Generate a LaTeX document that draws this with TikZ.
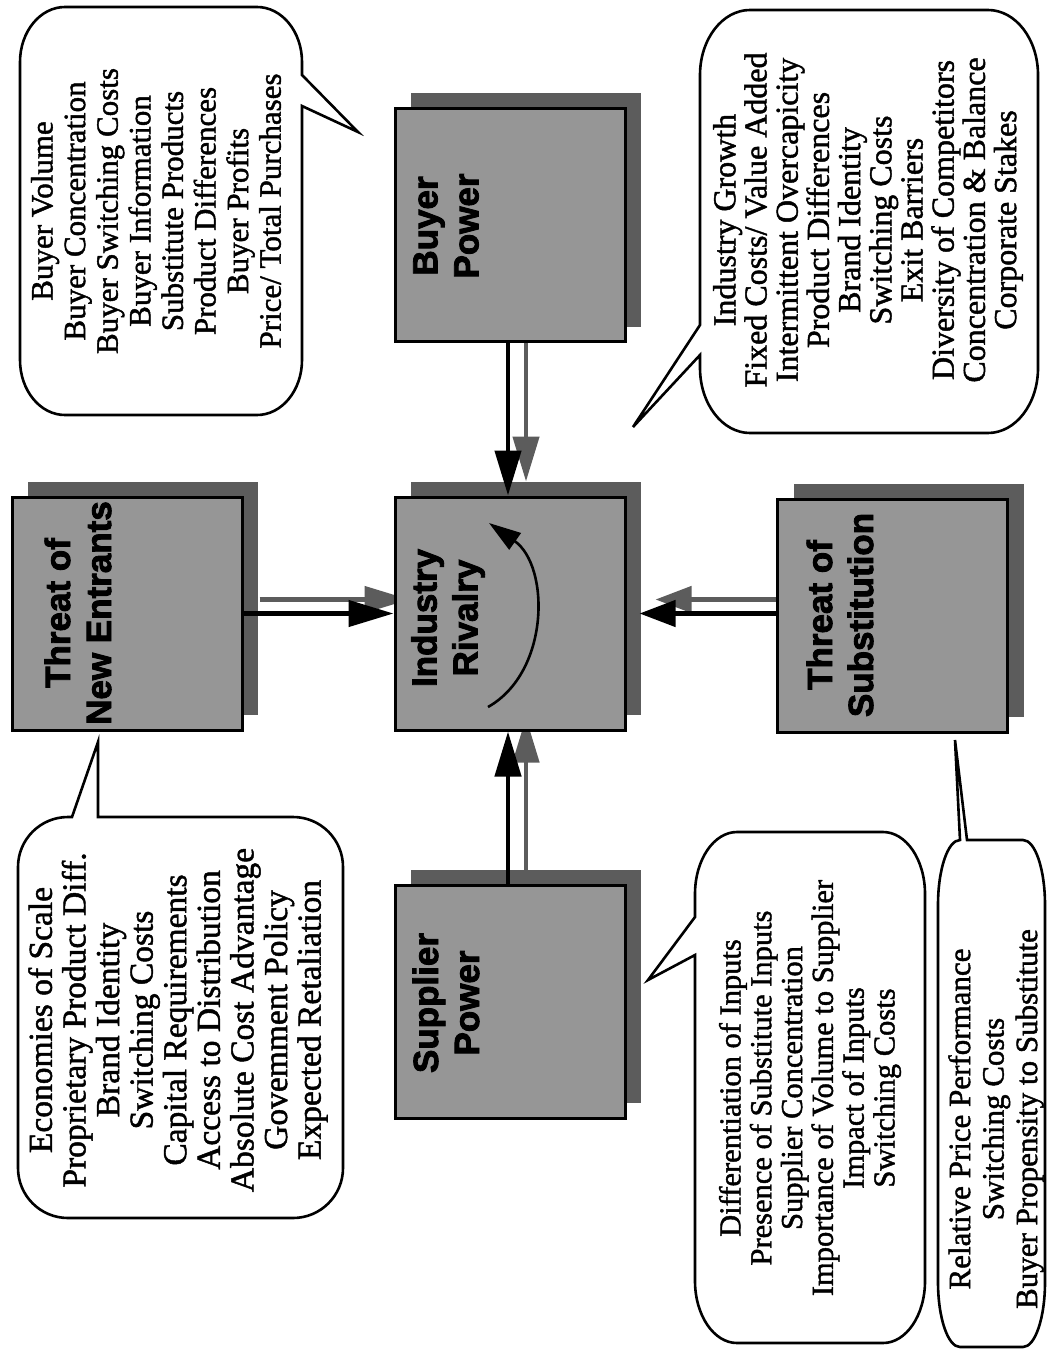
\documentclass[tikz,border=0pt]{standalone}
\usepackage{fontspec}
\setmainfont[FakeBold=1.4]{Liberation Serif}
\newfontfamily\boxfont[FakeBold=2.5]{Liberation Sans}
\usetikzlibrary{arrows.meta,shadows,backgrounds}
\definecolor{boxgray}{RGB}{150,150,150}
\definecolor{shadegray}{RGB}{92,92,92}
\begin{document}
\begin{tikzpicture}[x=1pt,y=-1pt,
  forcebox/.style={draw=black, line width=3pt, fill=boxgray, minimum width=230pt, minimum height=233pt, inner sep=0pt,
    drop shadow={shadow xshift=16pt, shadow yshift=15pt, fill=shadegray, opacity=1}},
  boxlabel/.style={rotate=90, align=center, inner sep=0pt, font=\boxfont\bfseries\fontsize{35pt}{41pt}\selectfont},
  listtext/.style={rotate=90, align=center, inner sep=0pt},
  callout/.style={draw=black, line width=2.6pt, fill=white, line join=miter},
  blk/.style={draw=black, line width=4.5pt, -{Triangle[length=45pt,width=26pt]}},
  shd/.style={draw=shadegray, line width=4.5pt, -{Triangle[length=45pt,width=26pt]}},
  curvearrow/.style={draw=black, line width=2.6pt, -{Triangle[length=32pt,width=20pt]}}
]
\useasboundingbox (0,0) rectangle (1048,1351);

% ---- callouts ----
\draw[callout] (65,7) -- (257,7) arc[start angle=90,end angle=0,x radius=45pt,y radius=55pt]
  -- (302,75) -- (358,132) -- (302,106) -- (302,360)
  arc[start angle=0,end angle=-90,x radius=45pt,y radius=55pt] -- (65,415)
  arc[start angle=-90,end angle=-180,x radius=45pt,y radius=55pt] -- (20,62)
  arc[start angle=180,end angle=90,x radius=45pt,y radius=55pt] -- cycle;

\draw[callout] (750,10) -- (988,10) arc[start angle=90,end angle=0,x radius=50pt,y radius=65pt]
  -- (1038,368) arc[start angle=0,end angle=-90,x radius=50pt,y radius=65pt] -- (750,433)
  arc[start angle=-90,end angle=-180,x radius=50pt,y radius=65pt]
  -- (700,355) -- (633,427) -- (700,325) -- (700,75)
  arc[start angle=180,end angle=90,x radius=50pt,y radius=65pt] -- cycle;

\draw[callout] (68,817) -- (72,817) -- (98,742) -- (98,817) -- (293,817)
  arc[start angle=90,end angle=0,x radius=50pt,y radius=50pt] -- (343,1168)
  arc[start angle=0,end angle=-90,x radius=50pt,y radius=50pt] -- (68,1218)
  arc[start angle=-90,end angle=-180,x radius=50pt,y radius=50pt] -- (18,867)
  arc[start angle=180,end angle=90,x radius=50pt,y radius=50pt] -- cycle;

\draw[callout] (737,832) -- (883,832) arc[start angle=90,end angle=0,x radius=42pt,y radius=62pt]
  -- (925,1281) arc[start angle=0,end angle=-90,x radius=42pt,y radius=62pt] -- (737,1343)
  arc[start angle=-90,end angle=-180,x radius=42pt,y radius=62pt]
  -- (695,955) -- (648,980) -- (695,917) -- (695,894)
  arc[start angle=180,end angle=90,x radius=42pt,y radius=62pt] -- cycle;

\draw[callout] (960,840) -- (955,740) -- (967,840) -- (1023,840)
  arc[start angle=90,end angle=0,x radius=22pt,y radius=65pt] -- (1045,1282)
  arc[start angle=0,end angle=-90,x radius=22pt,y radius=65pt] -- (960,1347)
  arc[start angle=-90,end angle=-180,x radius=22pt,y radius=65pt] -- (938,905)
  arc[start angle=180,end angle=90,x radius=22pt,y radius=65pt] -- cycle;

% ---- callout texts ----
\node[listtext, font=\fontsize{31pt}{32.6pt}\selectfont] (buyertxt) at (156,211)
  {Buyer Volume\\Buyer Concentration\\Buyer Switching Costs\\Buyer Information\\Substitute Products\\Product Differences\\Buyer Profits\\Price/ Total Purchases};
\node[listtext, font=\fontsize{32pt}{31.2pt}\selectfont] (rivtxt) at (868,220)
  {Industry Growth\\Fixed Costs/ Value Added\\Intermittent Overcapicity\\Product Differences\\Brand Identity\\Switching Costs\\Exit Barriers\\Diversity of Competitors\\Concentration \& Balance\\Corporate Stakes};
\node[listtext, font=\fontsize{33.5pt}{33.6pt}\selectfont] (enttxt) at (178,1020)
  {Economies of Scale\\Proprietary Product Diff.\\Brand Identity\\Switching Costs\\Capital Requirements\\Access to Distribution\\Absolute Cost Advantage\\Govemment Policy\\Expected Retaliation};
\node[listtext, font=\fontsize{30.5pt}{30.8pt}\selectfont] (suptxt) at (810,1088)
  {Differentiation of Inputs\\Presence of Substitute Inputs\\Supplier Concentration\\Importance of Volume to Supplier\\Impact of Inputs\\Switching Costs};
\node[listtext, font=\fontsize{31pt}{33.5pt}\selectfont] (subtxt) at (996,1119)
  {Relative Price Performance\\Switching Costs\\Buyer Propensity to Substitute};

% ---- force boxes ----
\node[forcebox] (buyer) at (510,225) {};
\node[forcebox] (rivalry) at (510,613.5) {};
\node[forcebox] (supplier) at (510,1001.5) {};
\node[forcebox] (entrants) at (127,613.5) {};
\node[forcebox] (subs) at (892.5,615.5) {};

\node[boxlabel] (buyerlbl) at (446,226) {Buyer\\Power};
\node[boxlabel] (rivlbl) at (448,618) {Industry\\Rivalry};
\node[boxlabel] (suplbl) at (446,1003) {Supplier\\Power};
\node[boxlabel] (entlbl) at (78,613) {Threat of\\New Entrants};
\node[boxlabel] (sublbl) at (840,615) {Threat of\\Substitution};

% ---- arrow shadows ----
\begin{pgfonlayer}{background}
\draw[shd] ([xshift=16pt,yshift=14pt]buyer.south) -- ([xshift=16pt,yshift=14pt]rivalry.north);
\draw[shd] ([xshift=16pt,yshift=14pt]entrants.east) -- ([xshift=16pt,yshift=14pt]rivalry.west);
\draw[shd] ([xshift=16pt,yshift=14pt]supplier.north) -- ([xshift=16pt,yshift=14pt]rivalry.south);
\draw[shd, -{Triangle[length=36pt,width=26pt]}] ([xshift=16pt,yshift=14pt]subs.west |- rivalry.east) -- ([xshift=29pt,yshift=14pt]rivalry.east);
\end{pgfonlayer}

% ---- arrows ----
\draw[blk] ([xshift=-2pt]buyer.south) -- ([xshift=-2pt]rivalry.north);
\draw[blk] (entrants.east) -- (rivalry.west);
\draw[blk] ([xshift=-2pt]supplier.north) -- ([xshift=-2pt]rivalry.south);
\draw[blk, -{Triangle[length=36pt,width=26pt]}] (subs.west |- rivalry.east) -- ([xshift=13pt]rivalry.east);

% ---- rivalry loop arrow ----
\coordinate (loopstart) at (488,707);
\coordinate (loopend) at (489,523);
\draw[curvearrow] (loopstart) .. controls (550,672) and (550,566) .. (loopend);
\end{tikzpicture}
\end{document}
